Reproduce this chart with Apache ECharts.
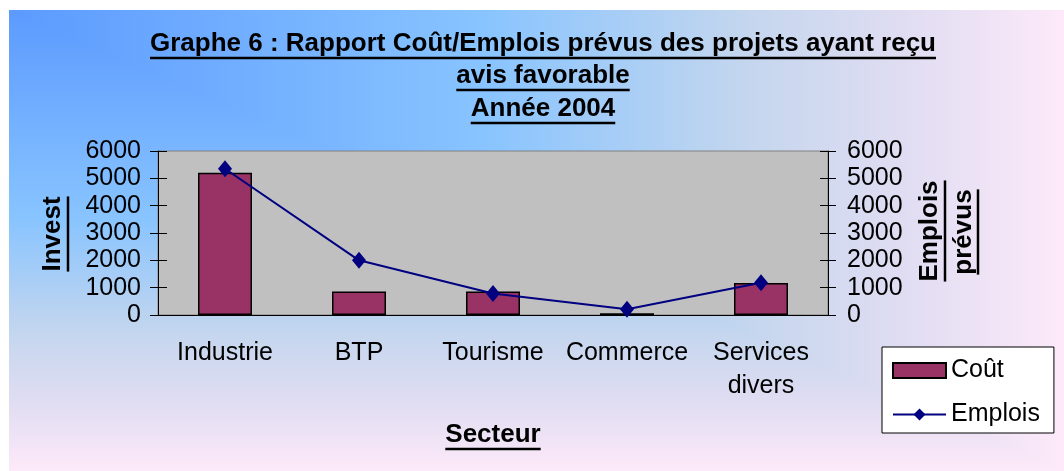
<!DOCTYPE html>
<html>
<head>
<meta charset="UTF-8">
<title>Graphe 6</title>
<script src="https://cdn.jsdelivr.net/npm/echarts@6/dist/echarts.min.js"></script>
<style>
  body { margin: 0; background: #fff; }
  #chart { width: 1064px; height: 471px; }
</style>
</head>
<body>
<div id="chart"></div>
<script>
// donnees
var secteurs = ['Industrie', 'BTP', 'Tourisme', 'Commerce', 'Services\ndivers'];
var cout = [5200, 860, 860, 60, 1170];
var emplois = [5350, 2000, 790, 210, 1180];
var axeMax = 6000;
var axePas = 1000;

var FONT = '"Liberation Sans", Arial, sans-serif';

// mesure du texte pour les soulignes
var ctx = document.createElement('canvas').getContext('2d');
function largeur(txt, size, bold) {
  ctx.font = (bold ? 'bold ' : '') + size + 'px ' + FONT;
  return ctx.measureText(txt).width;
}

// texte souligne (group pour pouvoir tourner)
function souligne(txt, x, y, rot, size, off) {
  var w = largeur(txt, size, true);
  return {
    type: 'group', x: x, y: y, rotation: rot || 0, z: 50,
    children: [
      { type: 'text', style: { text: txt, x: 0, y: 0, align: 'center', verticalAlign: 'middle',
          font: 'bold ' + size + 'px ' + FONT, fill: '#000' } },
      { type: 'line', shape: { x1: -w / 2, y1: off, x2: w / 2, y2: off },
        style: { stroke: '#000', lineWidth: 2.5 } }
    ]
  };
}

var stops = [
  { offset: 0, color: '#5c9aff' },
  { offset: 0.45, color: '#88c4ff' },
  { offset: 0.7, color: '#c4d6ee' },
  { offset: 0.85, color: '#e0ddf2' },
  { offset: 1, color: '#fde9f9' }
];

var myChart = echarts.init(document.getElementById('chart'));

var yCommun = { min: 0, max: axeMax, interval: axePas, splitLine: { show: false } };
function sansSep(v) { return String(v); }

var option = {
  animation: false,
  textStyle: { fontFamily: FONT },
  graphic: [
    // fond degrade "depuis le coin"
    { type: 'rect', shape: { x: 9, y: 10, width: 1055, height: 461 }, z: -10, silent: true,
      style: { fill: new echarts.graphic.LinearGradient(0, 0, 1, 0, stops) } },
    { type: 'polygon', shape: { points: [[9, 10], [1064, 471], [9, 471]] }, z: -9, silent: true,
      style: { fill: new echarts.graphic.LinearGradient(0, 0, 0, 1, stops) } },
    souligne('Graphe 6 : Rapport Coût/Emplois prévus des projets ayant reçu', 543, 44, 0, 26, 14),
    souligne('avis favorable', 543, 76, 0, 26, 14),
    souligne('Année 2004', 543, 109, 0, 26, 14),
    souligne('Invest', 53, 234, Math.PI / 2, 26, 15),
    souligne('Emplois', 930, 231, Math.PI / 2, 26, 15),
    souligne('prévus', 964, 232, Math.PI / 2, 26, 14),
    souligne('Secteur', 493, 435, 0, 26, 14)
  ],
  legend: {
    orient: 'vertical',
    left: 882, top: 347,
    padding: [11, 14, 6, 10],
    itemGap: 19,
    itemWidth: 53, itemHeight: 15,
    backgroundColor: '#fff',
    borderColor: '#000', borderWidth: 1,
    textStyle: { fontSize: 25, color: '#000', fontFamily: FONT },
    data: [{ name: 'Coût', icon: 'rect' }, { name: 'Emplois' }]
  },
  grid: {
    left: 158, right: 236, top: 151, bottom: 156,
    show: true, backgroundColor: '#c0c0c0', borderColor: '#808080', borderWidth: 1
  },
  xAxis: [
    { type: 'category', data: secteurs, boundaryGap: true,
      axisLine: { lineStyle: { color: '#000', width: 1 } },
      axisTick: { length: 8, lineStyle: { color: '#000' } },
      axisLabel: { color: '#000', fontSize: 25, margin: 22, lineHeight: 33, interval: 0 } },
    { type: 'category', data: secteurs, boundaryGap: true, position: 'bottom',
      axisLine: { show: false },
      axisTick: { inside: true, length: 8, lineStyle: { color: '#000' } },
      axisLabel: { show: false } }
  ],
  yAxis: [
    Object.assign({ type: 'value', position: 'left',
      axisLine: { show: true, lineStyle: { color: '#000' } },
      axisTick: { show: true, length: 8, lineStyle: { color: '#000' } },
      axisLabel: { color: '#000', fontSize: 25, margin: 17, formatter: sansSep } }, yCommun),
    Object.assign({ type: 'value', position: 'right',
      axisLine: { show: true, lineStyle: { color: '#000' } },
      axisTick: { show: true, length: 8, lineStyle: { color: '#000' } },
      axisLabel: { color: '#000', fontSize: 25, margin: 19, formatter: sansSep } }, yCommun),
    Object.assign({ type: 'value', position: 'left',
      axisLine: { show: false },
      axisTick: { show: true, inside: true, length: 9, lineStyle: { color: '#000' } },
      axisLabel: { show: false } }, yCommun),
    Object.assign({ type: 'value', position: 'right',
      axisLine: { show: false },
      axisTick: { show: true, inside: true, length: 8, lineStyle: { color: '#000' } },
      axisLabel: { show: false } }, yCommun)
  ],
  series: [
    { name: 'Coût', type: 'bar', data: cout, xAxisIndex: 0, yAxisIndex: 0,
      barWidth: 54,
      itemStyle: { color: '#993366', borderColor: '#000', borderWidth: 1.5 } },
    { name: 'Emplois', type: 'line', data: emplois, xAxisIndex: 0, yAxisIndex: 1,
      symbol: 'diamond', symbolSize: [14, 17],
      lineStyle: { color: '#000080', width: 2 },
      itemStyle: { color: '#000080' } }
  ]
};
myChart.setOption(option);
</script>
</body>
</html>
